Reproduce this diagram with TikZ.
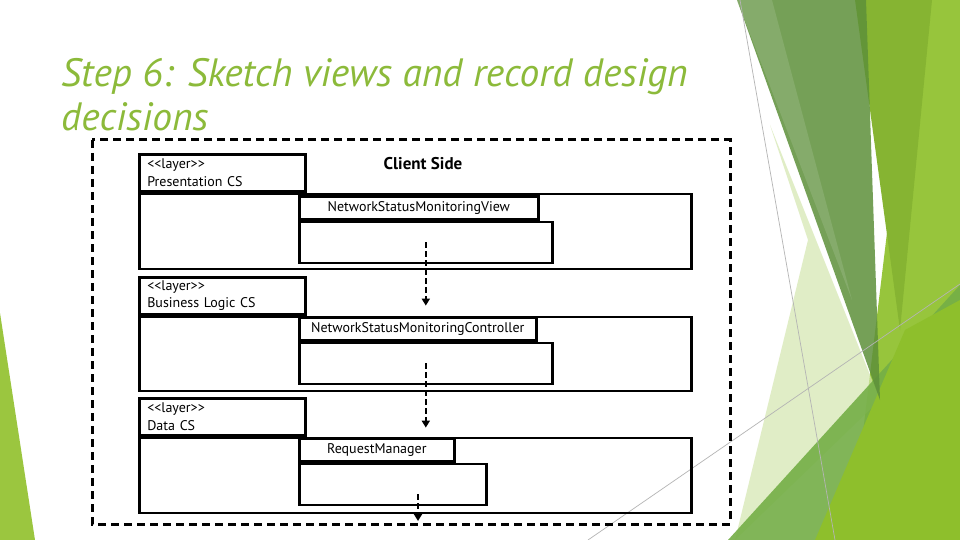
\documentclass[tikz,border=0pt]{standalone}
\usepackage{fontspec}
\setmainfont{PT Sans}
\usetikzlibrary{arrows.meta,calc}
\definecolor{titlegreen}{HTML}{8CBA3A}
\definecolor{leafgreen}{HTML}{9BC63F}
\definecolor{darkleaf}{HTML}{5E903A}
\definecolor{olive}{HTML}{86B432}
\definecolor{brightleaf}{HTML}{97C53C}
\definecolor{paleleaf}{HTML}{D3E6AE}
\definecolor{midleaf}{HTML}{74AE46}
\definecolor{lime}{HTML}{8EBF2C}
\definecolor{hairline}{HTML}{B4B4B4}
\newcommand{\stereo}[1]{<\kern0pt<#1>\kern0pt>}

\begin{document}
\begin{tikzpicture}[x=1pt,y=-1pt,>=Latex,
  box/.style={draw,line width=2.6pt,inner sep=0pt,anchor=north west},
  layertab/.style={box,align=left,text width=150pt,inner xsep=8pt,minimum height=37pt,font=\fontsize{14}{17.5}\selectfont},
  layerbody/.style={box,minimum width=552pt,minimum height=75pt},
  comptab/.style={box,minimum width=#1,minimum height=23pt,font=\fontsize{14}{16}\selectfont},
  compbody/.style={box,minimum width=#1,minimum height=41pt},
  flow/.style={line width=2pt,dash pattern=on 6pt off 3pt,-{Triangle[width=8pt,length=7pt]}},
  frame/.style={line width=3pt,dash pattern=on 8pt off 5pt}]
\useasboundingbox (0,0) rectangle (960,540);
\fill[white] (0,0) rectangle (960,540);
\fill[leafgreen] (0,313) -- (35,540) -- (0,540) -- cycle;
\fill[brightleaf] (915,0) -- (960,0) -- (960,540) -- (850,540) -- cycle;
\fill[olive] (855,0) -- (932,0) -- (900,330) -- cycle;
\fill[paleleaf,opacity=.7] (770,125) -- (880,400) -- (735,540) -- (808,240) -- cycle;
\fill[midleaf,opacity=.9] (728,540) -- (960,285) -- (960,540) -- cycle;
\fill[lime] (815,540) -- (905,330) -- (960,300) -- (960,540) -- cycle;
\fill[darkleaf,opacity=.85] (737,0) -- (866,0) -- (880,400) -- cycle;
\fill[white,opacity=.12] (737,0) -- (772,0) -- (852,300) -- cycle;
\draw[hairline,line width=.7pt] (740,0) -- (835,540);
\draw[hairline,line width=.7pt] (588,540) -- (960,284);

\node[font=\fontsize{39.5}{44.5}\selectfont\itshape,text=titlegreen,align=left,anchor=north west,inner sep=0pt] (title) at (61,58) {Step 6: Sketch views and record design\\decisions};

\draw[frame] (92,140) rectangle (730,524);
\node[font=\fontsize{17}{19}\selectfont\bfseries] (side) at (423,164) {Client Side};

\node[layertab] (prestab) at (138,153) {\stereo{layer}\\Presentation CS};
\node[layerbody] (presbody) at (prestab.south west) {};
\node[comptab=239pt] (viewtab) at (298,195) {NetworkStatusMonitoringView};
\node[compbody=253pt] (viewbody) at (viewtab.south west) {};

\node[layertab] (logictab) at (138,276) {\stereo{layer}\\Business Logic CS};
\node[layerbody,minimum height=74pt] (logicbody) at (logictab.south west) {};
\node[comptab=237pt] (ctrltab) at (298,316) {NetworkStatusMonitoringController};
\node[compbody=253pt] (ctrlbody) at (ctrltab.south west) {};

\node[layertab] (datatab) at (138,397) {\stereo{layer}\\Data CS};
\node[layerbody] (databody) at (datatab.south west) {};
\node[comptab=155pt] (mgrtab) at (298,437) {RequestManager};
\node[compbody=187pt] (mgrbody) at (mgrtab.south west) {};
\coordinate (dataout) at (418,521);

\draw[flow] (viewbody.center) -- ([yshift=10pt]viewbody.center |- logicbody.north);
\draw[flow] (ctrlbody.center) -- ([yshift=9pt]ctrlbody.center |- databody.north);
\draw[flow] (dataout |- mgrbody.center) ++(0,10) -- (dataout);
\end{tikzpicture}
\end{document}
